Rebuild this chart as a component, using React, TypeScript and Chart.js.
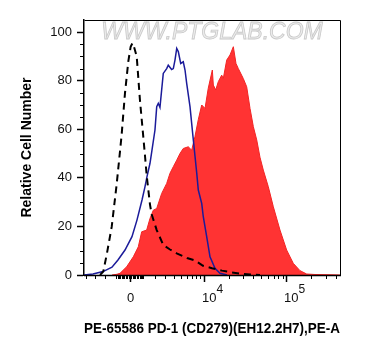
import React, { useEffect, useRef } from 'react';
import { Chart, registerables } from 'chart.js';

Chart.register(...registerables);

// biexponential-like display transform (display units = decades)
const BIEX_W = 1304;
const toDisplay = (v: number) => Math.asinh(v / (2 * BIEX_W)) / Math.LN10;

const X_MIN = -0.554;
const X_MAX = 2.53;
const Y_MIN = 0;
const Y_MAX = 105;

const yTickValues = [0, 20, 40, 60, 80, 100];
const xTickValues = [0, 1e4, 1e5];
const xTickBase = ['0', '10', '10'];
const xTickExp = ['', '4', '5'];
const xMinorValues = [
  -4000, -3000, -2000, -1000, -900, -800, -700, -600, -500, -400, -300, -200, -100,
  100, 200, 300, 400, 500, 600, 700, 800, 900,
  1000, 2000, 3000, 4000, 5000, 6000, 7000, 8000, 9000,
  20000, 30000, 40000, 50000, 60000, 70000, 80000, 90000,
  200000, 300000, 400000,
];

const xTitle = 'PE-65586 PD-1 (CD279)(EH12.2H7),PE-A';
const yTitle = 'Relative Cell Number';
const watermark = 'WWW.PTGLAB.COM';

// Isotype control (dashed black)
const isotypeX = [-0.361, -0.322, -0.277, -0.22, -0.16, -0.12, -0.1, -0.06, -0.02, 0.008, 0.03, 0.048, 0.081, 0.12, 0.16, 0.181, 0.201, 0.241, 0.261, 0.322, 0.401, 0.482, 0.563, 0.687, 0.783, 0.88, 0.988, 1.108, 1.205, 1.325, 1.446, 1.566];
const isotypeY = [0, 1.4, 9, 19.9, 37.5, 51, 58, 75, 88, 94, 95.5, 94, 90, 72, 57, 49, 41, 29, 25, 18.5, 12.3, 10.5, 8.9, 7, 6, 3.8, 2.8, 1.8, 1.2, 0.6, 0.2, 0];

// Unstained / control (blue line)
const controlX = [-0.554, -0.446, -0.325, -0.217, -0.145, -0.06, 0.024, 0.084, 0.145, 0.181, 0.205, 0.241, 0.265, 0.301, 0.322, 0.341, 0.361, 0.401, 0.442, 0.461, 0.502, 0.522, 0.542, 0.563, 0.582, 0.611, 0.642, 0.663, 0.683, 0.723, 0.759, 0.783, 0.804, 0.823, 0.864, 0.883, 0.924, 0.964, 1.024, 1.084, 1.169];
const controlY = [0, 0.4, 1.4, 3.2, 6.2, 10.3, 15.8, 22.6, 30.9, 36.4, 40.5, 46, 51.4, 59.7, 69.3, 70.7, 69, 83, 85, 86.4, 84.6, 85, 88.5, 93.3, 92, 87.1, 87.8, 84.4, 78.9, 69.3, 57, 49, 42, 35, 29.5, 24, 15.8, 7.5, 2.8, 0.7, 0];

// PD-1 stained (red filled)
const stainedX = [-0.217, -0.157, -0.12, -0.04, 0.04, 0.1, 0.141, 0.201, 0.241, 0.281, 0.322, 0.382, 0.442, 0.482, 0.522, 0.563, 0.602, 0.642, 0.702, 0.743, 0.783, 0.823, 0.864, 0.904, 0.943, 0.992, 1.004, 1.033, 1.064, 1.105, 1.124, 1.165, 1.205, 1.245, 1.277, 1.305, 1.365, 1.406, 1.446, 1.486, 1.527, 1.566, 1.606, 1.666, 1.727, 1.807, 1.887, 1.967, 2.048, 2.129, 2.229, 2.41, 2.53];
const stainedY = [0, 0.3, 0.7, 3.4, 7.5, 11.6, 17.8, 18.5, 23.3, 26.7, 27.4, 33.6, 37.7, 41.9, 44.6, 47.3, 50, 52.1, 52.8, 51.4, 57, 64, 70, 68.6, 76.9, 84.4, 78.2, 76.2, 79.6, 82.3, 80.9, 88.5, 90.6, 94, 87.1, 85, 80.9, 77.5, 68.6, 61.1, 55.6, 48.5, 43.2, 36.4, 28.1, 18.5, 10.3, 4.8, 1.8, 0.4, 0.2, 0.1, 0];

const FONT = '"Liberation Sans", Arial, sans-serif';

const toPoints = (xs: number[], ys: number[]) => xs.map((x, i) => ({ x, y: ys[i] }));

const decorPlugin = {
  id: 'decor',
  beforeDatasetsDraw(chart: any) {
    const { ctx, chartArea } = chart;
    ctx.save();
    ctx.font = `italic 23px ${FONT}`;
    ctx.textAlign = 'center';
    ctx.textBaseline = 'middle';
    ctx.fillStyle = '#ececec';
    ctx.strokeStyle = '#c9c9c9';
    ctx.lineWidth = 0.8;
    const cx = (chartArea.left + chartArea.right) / 2;
    ctx.fillText(watermark, cx, chartArea.top + 13);
    ctx.strokeText(watermark, cx, chartArea.top + 13);
    ctx.restore();
  },
  afterDraw(chart: any) {
    const { ctx, chartArea, scales } = chart;
    const xs = scales.x;
    const ys = scales.y;
    ctx.save();
    // frame
    ctx.strokeStyle = '#000';
    ctx.lineWidth = 1;
    ctx.beginPath();
    ctx.moveTo(chartArea.left + 0.5, chartArea.top + 0.5);
    ctx.lineTo(chartArea.right + 0.5, chartArea.top + 0.5);
    ctx.lineTo(chartArea.right + 0.5, chartArea.bottom);
    ctx.stroke();
    // x axis line
    ctx.beginPath();
    ctx.lineWidth = 1.5;
    ctx.moveTo(chartArea.left, chartArea.bottom + 0.5);
    ctx.lineTo(chartArea.right + 1, chartArea.bottom + 0.5);
    ctx.stroke();
    ctx.lineWidth = 1;
    // x minor ticks
    const b = chartArea.bottom;
    ctx.beginPath();
    xMinorValues.forEach((v) => {
      const px = Math.round(xs.getPixelForValue(toDisplay(v))) + 0.5;
      if (px < chartArea.left || px > chartArea.right) return;
      ctx.moveTo(px, b);
      ctx.lineTo(px, b + 4);
    });
    ctx.stroke();
    // x major ticks + labels
    ctx.fillStyle = '#111';
    xTickValues.forEach((v, i) => {
      const px = Math.round(xs.getPixelForValue(toDisplay(v))) + 0.5;
      ctx.lineWidth = 1.5;
      ctx.beginPath();
      ctx.moveTo(px, b);
      ctx.lineTo(px, b + 7);
      ctx.stroke();
      ctx.textBaseline = 'alphabetic';
      if (!xTickExp[i]) {
        ctx.font = `13px ${FONT}`;
        ctx.textAlign = 'center';
        ctx.fillText(xTickBase[i], px, b + 27);
      } else {
        ctx.font = `13px ${FONT}`;
        ctx.textAlign = 'left';
        const x0 = px - 2.5;
        ctx.fillText(xTickBase[i], x0, b + 27);
        const w = ctx.measureText(xTickBase[i]).width;
        ctx.font = `12px ${FONT}`;
        ctx.fillText(xTickExp[i], x0 + w, b + 18);
      }
    });
    // y minor ticks
    ctx.lineWidth = 1;
    ctx.beginPath();
    for (let v = 5; v <= 100; v += 5) {
      if (v % 20 === 0) continue;
      const py = Math.round(ys.getPixelForValue(v)) + 0.5;
      ctx.moveTo(chartArea.left - 4, py);
      ctx.lineTo(chartArea.left, py);
    }
    ctx.stroke();
    ctx.restore();
  },
};

export default function App() {
  const canvasRef = useRef<HTMLCanvasElement | null>(null);

  useEffect(() => {
    const canvas = canvasRef.current;
    if (!canvas) return;
    const chart = new Chart(canvas, {
      type: 'line',
      data: {
        datasets: [
          {
            label: 'Isotype',
            data: toPoints(isotypeX, isotypeY),
            borderColor: '#000',
            borderWidth: 2,
            borderDash: [7, 5],
            pointRadius: 0,
            fill: false,
            tension: 0,
          },
          {
            label: 'Control',
            data: toPoints(controlX, controlY),
            borderColor: '#1b1b9a',
            borderWidth: 1.5,
            pointRadius: 0,
            fill: false,
            tension: 0,
          },
          {
            label: 'PD-1',
            data: toPoints(stainedX, stainedY),
            borderColor: '#f22424',
            backgroundColor: '#ff3333',
            borderWidth: 1,
            pointRadius: 0,
            fill: 'origin',
            tension: 0,
          },
        ],
      },
      options: {
        responsive: false,
        animation: false,
        devicePixelRatio: 1,
        layout: { padding: { left: 0, right: 27, top: 20, bottom: 0 } },
        plugins: {
          legend: { display: false },
          tooltip: { enabled: false },
        },
        scales: {
          x: {
            type: 'linear',
            min: X_MIN,
            max: X_MAX,
            grid: { display: false, drawTicks: false },
            border: { display: false },
            ticks: { display: false },
            title: {
              display: true,
              text: xTitle,
              color: '#000',
              font: { family: FONT, size: 14, weight: 'bold' },
              padding: { top: 0, bottom: 18 },
            },
            afterFit: (scale: any) => {
              scale.height = 81;
            },
          },
          y: {
            type: 'linear',
            min: Y_MIN,
            max: Y_MAX,
            afterBuildTicks: (scale: any) => {
              scale.ticks = yTickValues.map((v) => ({ value: v }));
            },
            grid: {
              drawOnChartArea: false,
              drawTicks: true,
              tickLength: 7,
              tickColor: '#000',
              tickWidth: 1.5,
            },
            border: { display: true, color: '#000', width: 1.5 },
            ticks: {
              color: '#111',
              font: { family: FONT, size: 13 },
              padding: 5,
            },
            title: {
              display: true,
              text: yTitle,
              color: '#000',
              font: { family: FONT, size: 14, weight: 'bold' },
              padding: { top: 19, bottom: 0 },
            },
            afterFit: (scale: any) => {
              scale.width = 84;
            },
          },
        },
      },
      plugins: [decorPlugin],
    } as any);
    return () => chart.destroy();
  }, []);

  return (
    <div style={{ position: 'fixed', left: 0, top: 0, width: 367, height: 356, background: '#fff' }}>
      <canvas ref={canvasRef} width={367} height={356} style={{ display: 'block', width: 367, height: 356 }} />
    </div>
  );
}
